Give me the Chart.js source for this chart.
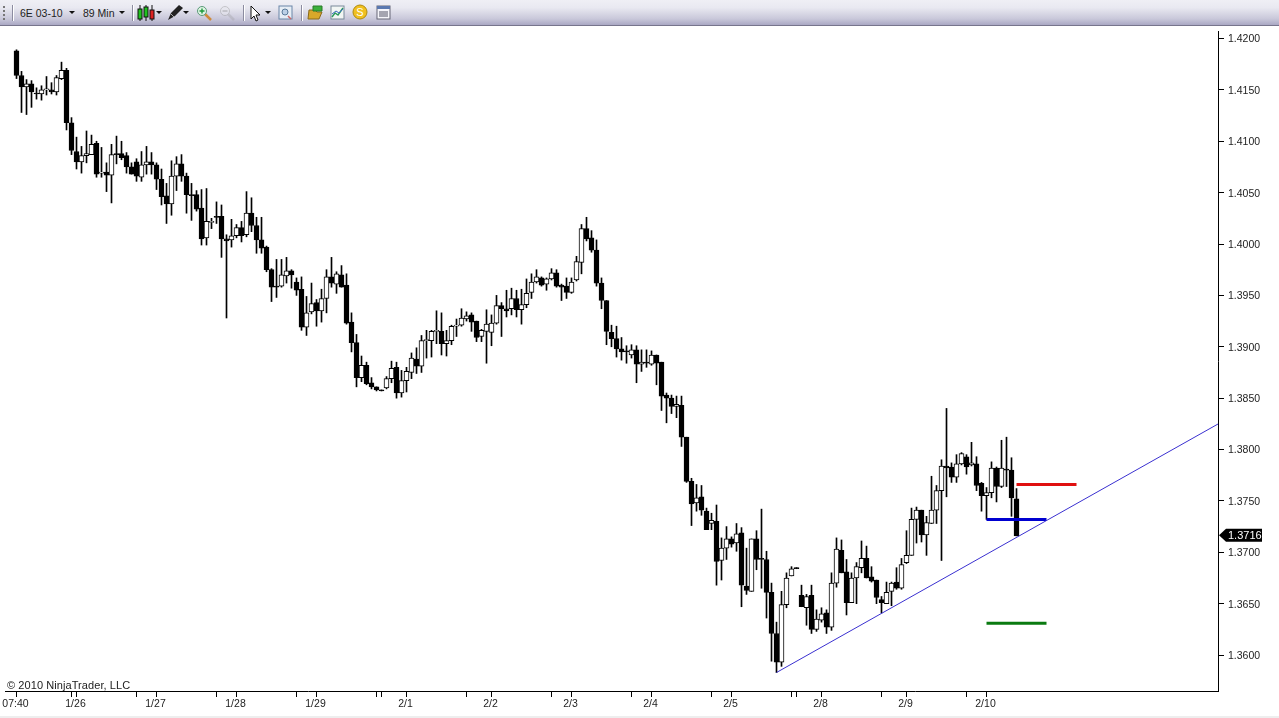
<!DOCTYPE html>
<html>
<head>
<meta charset="utf-8">
<title>6E 03-10 89 Min</title>
<script src="https://cdn.jsdelivr.net/npm/chart.js@4/dist/chart.umd.min.js"></script>
<style>
  html, body { margin: 0; padding: 0; background: #fff; overflow: hidden; }
  #wrap { position: relative; width: 1279px; height: 718px; }
  #chart { position: absolute; left: 0; top: 0; }
  #strip { position: absolute; left: 0; right: 0; bottom: 0; height: 2px; background: #eeeeee; }
  #bar { position: absolute; left: 0; top: 0; width: 1279px; height: 25px; border-bottom: 1px solid #77758c;
    background: linear-gradient(#efeff5, #e9e9f1 30%, #c9c8da 75%, #aaa8c4);
    font: 10.5px "Liberation Sans", Arial, sans-serif; color: #222; }
  #bar span, #bar svg, #bar i { position: absolute; }
  #bar span { top: 7px; }
  #bar i { top: 5px; width: 1px; height: 16px; background: #8c8ca0; border-right: 1px solid #fff; }
</style>
</head>
<body>
<div id="wrap">
  <canvas id="chart" width="1279" height="718"></canvas>
  <div id="strip"></div>
  <div id="bar">
    <svg style="left:2px;top:5px" width="4" height="16"><g fill="#777"><rect x="1" y="1" width="2" height="2"/><rect x="1" y="5" width="2" height="2"/><rect x="1" y="9" width="2" height="2"/><rect x="1" y="13" width="2" height="2"/></g></svg>
    <i style="left:12px"></i>
    <span style="left:20px">6E 03-10</span>
    <svg style="left:69px;top:11px" width="6" height="4"><path d="M0 0h6L3 3z" fill="#111"/></svg>
    <span style="left:83px">89 Min</span>
    <svg style="left:119px;top:11px" width="6" height="4"><path d="M0 0h6L3 3z" fill="#111"/></svg>
    <i style="left:132px"></i>
    <svg style="left:137px;top:4px" width="20" height="18">
      <path d="M3 1v16M9 1v16M15 1v16" stroke="#111"/>
      <rect x="1" y="5" width="4" height="10" fill="#1fc21f" stroke="#111"/>
      <rect x="7" y="3" width="4" height="10" fill="#1fc21f" stroke="#111"/>
      <rect x="13" y="6" width="4" height="9" fill="#d22" stroke="#111"/>
    </svg>
    <svg style="left:156px;top:11px" width="6" height="4"><path d="M0 0h6L3 3z" fill="#111"/></svg>
    <svg style="left:167px;top:4px" width="17" height="17"><path d="M1 16l3-7L12 1l4 3-8 8z" fill="#222"/><path d="M4 10l3 3" stroke="#aaa"/></svg>
    <svg style="left:183px;top:11px" width="6" height="4"><path d="M0 0h6L3 3z" fill="#111"/></svg>
    <svg style="left:196px;top:5px" width="16" height="16"><path d="M9 9l6 6" stroke="#d08a3a" stroke-width="2.5"/><circle cx="6" cy="6" r="4.5" fill="#dff3e4" stroke="#5a9a78"/><path d="M3.5 6h5M6 3.5v5" stroke="#1a9a3a" stroke-width="1.4"/></svg>
    <svg style="left:219px;top:5px" width="16" height="16" opacity="0.45"><path d="M9 9l6 6" stroke="#a9a9b0" stroke-width="2.5"/><circle cx="6" cy="6" r="4.5" fill="#e8e8ee" stroke="#999"/><path d="M3.5 6h5" stroke="#888" stroke-width="1.4"/></svg>
    <i style="left:243px"></i>
    <svg style="left:250px;top:5px" width="12" height="17"><path d="M1 1v13l3-3 2 5 2-1-2-5h4z" fill="#fff" stroke="#111"/></svg>
    <svg style="left:265px;top:11px" width="6" height="4"><path d="M0 0h6L3 3z" fill="#111"/></svg>
    <svg style="left:278px;top:5px" width="15" height="15"><rect x="1" y="1" width="13" height="13" fill="#e6edf5" stroke="#6a86a8"/><circle cx="7" cy="7" r="3" fill="#bcd0e6" stroke="#5a7a9a"/><path d="M10 11l3 3" stroke="#c66" stroke-width="1.5"/></svg>
    <i style="left:301px"></i>
    <svg style="left:307px;top:5px" width="16" height="15"><path d="M2 5h6l2 2h5l-3 7H1z" fill="#d8a82a" stroke="#8a6a1a"/><path d="M6 1h9v5H6z" fill="#3bb03b" stroke="#2a7a2a"/></svg>
    <svg style="left:330px;top:5px" width="15" height="15"><rect x="1" y="1" width="13" height="13" fill="#f2f6f4" stroke="#7a8a9a"/><path d="M2 12l3-4 3 2 5-7" fill="none" stroke="#2a9a5a" stroke-width="1.4"/><path d="M2 9l4-3 3 2 4-4" fill="none" stroke="#3a6ac0"/></svg>
    <svg style="left:352px;top:4px" width="16" height="16"><circle cx="8" cy="8" r="7" fill="#f0c020" stroke="#b08a10"/><text x="8" y="12" text-anchor="middle" font-size="11" font-family="Liberation Sans" fill="#fff">S</text></svg>
    <svg style="left:376px;top:5px" width="15" height="15"><rect x="1" y="1" width="13" height="13" fill="#f4f4fa" stroke="#667"/><rect x="1" y="1" width="13" height="3" fill="#5a78b0"/><path d="M3 7h9M3 9h9M3 11h9" stroke="#556"/></svg>
  </div>
</div>
<script>
const opens = [
  1.4188,1.4164,1.4153,1.4156,1.4147,1.4146,1.4150,1.4150,1.4148,1.4161,
  1.4169,1.4118,1.4090,1.4080,1.4086,1.4087,1.4098,1.4069,1.4070,1.4067,
  1.4088,1.4088,1.4086,1.4075,1.4080,1.4065,1.4077,1.4080,1.4077,1.4063,
  1.4047,1.4039,1.4066,1.4078,1.4066,1.4048,1.4048,1.4035,1.4006,1.4021,
  1.4027,1.4027,1.4005,1.4004,1.4008,1.4016,1.4009,1.4030,1.4018,1.4004,
  1.3997,1.3975,1.3959,1.3959,1.3969,1.3974,1.3963,1.3956,1.3919,1.3934,
  1.3943,1.3935,1.3947,1.3968,1.3961,1.3970,1.3960,1.3924,1.3904,1.3870,
  1.3882,1.3865,1.3861,1.3858,1.3860,1.3869,1.3880,1.3855,1.3867,1.3875,
  1.3888,1.3881,1.3906,1.3906,1.3915,1.3915,1.3903,1.3906,1.3920,1.3921,
  1.3927,1.3931,1.3925,1.3910,1.3915,1.3914,1.3923,1.3940,1.3937,1.3937,
  1.3947,1.3936,1.3941,1.3953,1.3963,1.3967,1.3961,1.3966,1.3972,1.3960,
  1.3959,1.3953,1.3965,1.3982,1.4015,1.4006,1.3994,1.3962,1.3945,1.3914,
  1.3908,1.3898,1.3896,1.3892,1.3897,1.3883,1.3885,1.3883,1.3892,1.3885,
  1.3853,1.3850,1.3842,1.3843,1.3812,1.3769,1.3748,1.3754,1.3740,1.3728,
  1.3730,1.3692,1.3704,1.3713,1.3709,1.3719,1.3667,1.3662,1.3713,1.3694,
  1.3693,1.3661,1.3621,1.3593,1.3649,1.3677,1.3685,1.3658,1.3646,1.3658,
  1.3625,1.3634,1.3641,1.3627,1.3670,1.3702,1.3681,1.3651,1.3675,1.3685,
  1.3694,1.3676,1.3673,1.3654,1.3650,1.3662,1.3671,1.3665,1.3690,1.3697,
  1.3732,1.3741,1.3717,1.3728,1.3741,1.3760,1.3784,1.3783,1.3773,1.3786,
  1.3793,1.3785,1.3786,1.3767,1.3755,1.3758,1.3782,1.3764,1.3781,1.3780,
  1.3752
];
const closes = [
  1.4164,1.4153,1.4156,1.4148,1.4146,1.4150,1.4151,1.4148,1.4162,1.4169,
  1.4118,1.4091,1.4080,1.4086,1.4088,1.4097,1.4068,1.4070,1.4067,1.4087,
  1.4087,1.4084,1.4075,1.4068,1.4066,1.4077,1.4080,1.4077,1.4063,1.4046,
  1.4039,1.4066,1.4078,1.4066,1.4048,1.4047,1.4034,1.4005,1.4022,1.4022,
  1.4026,1.4005,1.4003,1.4008,1.4016,1.4008,1.4030,1.4018,1.4004,1.3996,
  1.3975,1.3958,1.3958,1.3970,1.3974,1.3970,1.3955,1.3919,1.3933,1.3942,
  1.3935,1.3947,1.3968,1.3962,1.3971,1.3958,1.3923,1.3904,1.3870,1.3882,
  1.3864,1.3861,1.3858,1.3857,1.3869,1.3879,1.3855,1.3867,1.3876,1.3889,
  1.3881,1.3906,1.3907,1.3915,1.3916,1.3903,1.3906,1.3920,1.3921,1.3928,
  1.3930,1.3924,1.3909,1.3916,1.3922,1.3923,1.3940,1.3937,1.3935,1.3947,
  1.3936,1.3941,1.3952,1.3963,1.3968,1.3960,1.3966,1.3972,1.3959,1.3958,
  1.3953,1.3963,1.3983,1.4015,1.4005,1.3994,1.3962,1.3945,1.3915,1.3908,
  1.3898,1.3895,1.3895,1.3897,1.3883,1.3885,1.3884,1.3892,1.3884,1.3852,
  1.3850,1.3842,1.3844,1.3812,1.3769,1.3747,1.3753,1.3741,1.3722,1.3731,
  1.3691,1.3704,1.3713,1.3708,1.3718,1.3668,1.3663,1.3713,1.3693,1.3693,
  1.3661,1.3621,1.3593,1.3649,1.3675,1.3684,1.3684,1.3647,1.3657,1.3625,
  1.3635,1.3640,1.3627,1.3670,1.3703,1.3680,1.3651,1.3675,1.3686,1.3694,
  1.3675,1.3672,1.3656,1.3651,1.3661,1.3670,1.3665,1.3688,1.3697,1.3732,
  1.3741,1.3717,1.3729,1.3741,1.3760,1.3784,1.3782,1.3773,1.3786,1.3796,
  1.3783,1.3787,1.3765,1.3755,1.3758,1.3782,1.3764,1.3782,1.3780,1.3753,
  1.3716
];
const highs = [
  1.4189,1.4168,1.4160,1.4159,1.4152,1.4154,1.4163,1.4157,1.4164,1.4177,
  1.4171,1.4123,1.4104,1.4095,1.4110,1.4106,1.4100,1.4094,1.4079,1.4097,
  1.4105,1.4100,1.4089,1.4079,1.4083,1.4090,1.4095,1.4089,1.4079,1.4073,
  1.4059,1.4081,1.4085,1.4087,1.4069,1.4059,1.4052,1.4053,1.4054,1.4025,
  1.4041,1.4038,1.4009,1.4024,1.4019,1.4022,1.4051,1.4045,1.4026,1.4026,
  1.3998,1.3976,1.3985,1.3985,1.3987,1.3975,1.3967,1.3968,1.3949,1.3962,
  1.3946,1.3956,1.3975,1.3987,1.3973,1.3979,1.3971,1.3933,1.3912,1.3891,
  1.3885,1.3870,1.3861,1.3858,1.3871,1.3886,1.3885,1.3877,1.3880,1.3894,
  1.3899,1.3911,1.3916,1.3916,1.3935,1.3933,1.3916,1.3921,1.3927,1.3937,
  1.3934,1.3933,1.3925,1.3917,1.3936,1.3931,1.3950,1.3943,1.3955,1.3957,
  1.3955,1.3956,1.3966,1.3971,1.3975,1.3968,1.3967,1.3976,1.3975,1.3961,
  1.3967,1.3967,1.3988,1.4019,1.4026,1.4013,1.4004,1.3967,1.3945,1.3921,
  1.3920,1.3909,1.3901,1.3902,1.3901,1.3897,1.3897,1.3896,1.3892,1.3885,
  1.3855,1.3853,1.3852,1.3852,1.3812,1.3772,1.3766,1.3765,1.3743,1.3738,
  1.3746,1.3714,1.3725,1.3715,1.3728,1.3724,1.3704,1.3713,1.3721,1.3742,
  1.3701,1.3670,1.3632,1.3662,1.3680,1.3686,1.3685,1.3668,1.3659,1.3668,
  1.3644,1.3646,1.3644,1.3680,1.3714,1.3712,1.3693,1.3680,1.3690,1.3711,
  1.3706,1.3686,1.3673,1.3657,1.3671,1.3671,1.3685,1.3694,1.3721,1.3743,
  1.3744,1.3741,1.3735,1.3774,1.3765,1.3790,1.3840,1.3787,1.3795,1.3797,
  1.3795,1.3807,1.3793,1.3768,1.3763,1.3788,1.3783,1.3809,1.3812,1.3792,
  1.3762
];
const lows = [
  1.4161,1.4128,1.4126,1.4133,1.4141,1.4140,1.4145,1.4146,1.4145,1.4160,
  1.4111,1.4087,1.4073,1.4069,1.4079,1.4087,1.4065,1.4065,1.4051,1.4040,
  1.4078,1.4082,1.4069,1.4068,1.4061,1.4061,1.4068,1.4068,1.4053,1.4038,
  1.4020,1.4028,1.4052,1.4061,1.4030,1.4023,1.4032,1.3999,1.3999,1.4015,
  1.4020,1.3987,1.3928,1.3997,1.4006,1.4002,1.4007,1.4012,1.3991,1.3991,
  1.3973,1.3944,1.3948,1.3958,1.3962,1.3957,1.3950,1.3916,1.3911,1.3932,
  1.3920,1.3924,1.3933,1.3958,1.3952,1.3958,1.3922,1.3895,1.3861,1.3866,
  1.3863,1.3859,1.3857,1.3857,1.3859,1.3865,1.3850,1.3851,1.3856,1.3869,
  1.3874,1.3875,1.3889,1.3890,1.3903,1.3892,1.3891,1.3902,1.3910,1.3920,
  1.3925,1.3915,1.3905,1.3905,1.3884,1.3901,1.3922,1.3910,1.3929,1.3931,
  1.3929,1.3922,1.3938,1.3947,1.3962,1.3959,1.3955,1.3965,1.3958,1.3945,
  1.3947,1.3952,1.3964,1.3971,1.4003,1.3992,1.3959,1.3937,1.3902,1.3900,
  1.3890,1.3887,1.3884,1.3889,1.3865,1.3876,1.3880,1.3882,1.3863,1.3838,
  1.3826,1.3835,1.3831,1.3803,1.3768,1.3726,1.3740,1.3736,1.3722,1.3722,
  1.3668,1.3673,1.3693,1.3705,1.3701,1.3647,1.3659,1.3662,1.3683,1.3665,
  1.3636,1.3594,1.3583,1.3589,1.3646,1.3677,1.3684,1.3647,1.3629,1.3621,
  1.3623,1.3632,1.3621,1.3624,1.3666,1.3680,1.3639,1.3651,1.3650,1.3680,
  1.3675,1.3671,1.3650,1.3641,1.3650,1.3648,1.3664,1.3664,1.3689,1.3697,
  1.3709,1.3710,1.3697,1.3728,1.3728,1.3692,1.3754,1.3768,1.3768,1.3785,
  1.3776,1.3784,1.3760,1.3740,1.3732,1.3753,1.3749,1.3763,1.3764,1.3735,
  1.3716
];

// bar numbers that get a tick, and the label under each one
const xTicks  = [0, 11, 12, 24, 28, 40, 44, 56, 60, 72, 73, 78, 90, 95, 107, 111, 123, 127, 139, 143, 155, 156, 161, 173, 178, 190, 194];
const xLabels = ['07:40', '', '1/26', '', '1/27', '', '1/28', '', '1/29', '', '', '2/1', '', '2/2', '', '2/3', '', '2/4', '', '2/5', '', '', '2/8', '', '2/9', '', '2/10'];
const yTicks  = [1.36, 1.365, 1.37, 1.375, 1.38, 1.385, 1.39, 1.395, 1.40, 1.405, 1.41, 1.415, 1.42];

// drawn objects: [start bar, end bar], [start price, end price]
const trendBars = [152, 240.36];
const trendPrices = [1.3583, 1.3825];
const redBars = [200, 212];
const redPrices = [1.3766, 1.3766];
const blueBars = [194, 206];
const bluePrices = [1.3732, 1.3732];
const greenBars = [194, 206];
const greenPrices = [1.3631, 1.3631];

const lastPrice = closes[closes.length - 1];
const FONT = '"Liberation Sans", Arial, sans-serif';

function seg(xs, ys) {
  return xs.map((x, i) => ({ x: x, y: ys[i] }));
}

function lineSet(xs, ys, color, width) {
  return { type: 'line', data: seg(xs, ys), borderColor: color, borderWidth: width, pointRadius: 0, order: 0, borderCapStyle: 'butt' };
}

const extras = {
  id: 'extras',
  afterDraw(chart) {
    const c = chart.ctx;
    const y = chart.scales.y.getPixelForValue(lastPrice) - 0.5;
    c.save();
    c.fillStyle = '#222';
    c.font = '11px ' + FONT;
    c.letterSpacing = '0.08px';
    c.textBaseline = 'alphabetic';
    c.fillText('\u00a9 2010 NinjaTrader, LLC', 7, 689);
    c.letterSpacing = '0px';
    c.fillStyle = '#000';
    c.beginPath();
    c.moveTo(1219, y);
    c.lineTo(1226, y - 6.5);
    c.lineTo(1262, y - 6.5);
    c.lineTo(1262, y + 6.5);
    c.lineTo(1226, y + 6.5);
    c.closePath();
    c.fill();
    c.fillStyle = '#fff';
    c.textBaseline = 'middle';
    c.fillText(lastPrice.toFixed(4), 1228, y + 0.5);
    c.restore();
  }
};

new Chart(document.getElementById('chart'), {
  type: 'bar',
  data: {
    datasets: [
      lineSet(trendBars, trendPrices, '#3a30d0', 1),
      lineSet(redBars, redPrices, '#e01010', 3),
      lineSet(blueBars, bluePrices, '#0000d0', 3),
      lineSet(greenBars, greenPrices, '#0a7a10', 3),
      {
        data: opens.map((o, i) => ({ x: i, y: [o, closes[i]] })),
        backgroundColor: opens.map((o, i) => closes[i] >= o ? '#fff' : '#000'),
        borderColor: '#000', borderWidth: 1, borderSkipped: false, barThickness: 5, grouped: false, order: 1
      },
      {
        data: lows.map((l, i) => ({ x: i, y: [l, highs[i]] })),
        backgroundColor: '#000', borderWidth: 0, barThickness: 1, grouped: false, order: 2
      }
    ]
  },
  options: {
    responsive: false,
    animation: false,
    layout: { padding: { left: 5, top: 31, right: 0, bottom: 0 } },
    plugins: { legend: { display: false }, tooltip: { enabled: false } },
    scales: {
      x: {
        type: 'linear', offset: false, min: -2.3, max: 240.3,
        grid: { drawOnChartArea: false, offset: false, tickLength: 6, tickColor: '#000' },
        border: { color: '#000', width: 1 },
        afterBuildTicks(s) { s.ticks = xTicks.map(v => ({ value: v })); },
        afterFit(s) { s.height = 27; s.paddingLeft = 0; s.paddingRight = 0; },
        ticks: {
          autoSkip: false, maxRotation: 0, minRotation: 0, padding: 1, labelOffset: -1, color: '#222', font: { family: FONT, size: 10.5 },
          callback: v => xLabels[xTicks.indexOf(v)] ?? ''
        }
      },
      y: {
        position: 'right', min: 1.3565, max: 1.42073,
        grid: { drawOnChartArea: false, tickLength: 6, tickColor: '#000' },
        border: { color: '#000', width: 1 },
        afterBuildTicks(s) { s.ticks = yTicks.map(v => ({ value: v })); },
        afterFit(s) { s.width = 61; },
        ticks: { padding: 4, labelOffset: 1, color: '#222', font: { family: FONT, size: 10.5 }, callback: v => v.toFixed(4) }
      }
    }
  },
  plugins: [extras]
});
</script>
</body>
</html>
